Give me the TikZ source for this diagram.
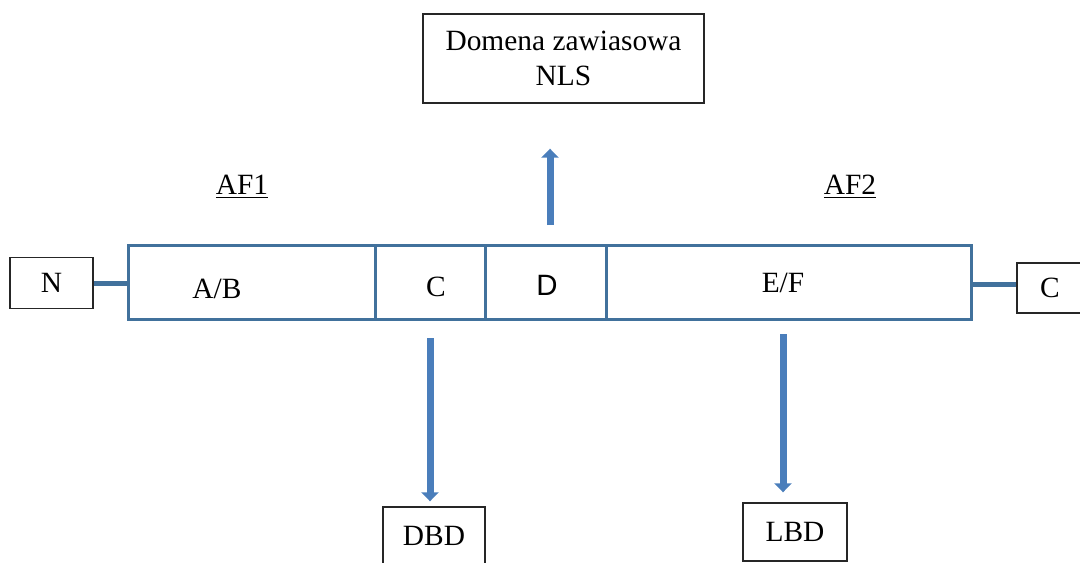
\documentclass[tikz,border=0pt]{standalone}
\usepackage{fontspec}
\setmainfont{Liberation Serif}
\setsansfont{Liberation Sans}
\usetikzlibrary{arrows.meta, positioning}

\definecolor{barblue}{RGB}{65,113,156}
\definecolor{arrowblue}{RGB}{74,126,187}

\begin{document}
\begin{tikzpicture}[
        x=0.5pt, y=-0.5pt,
        % Pola domen receptora
        segment/.style={
                rectangle,
                draw=barblue,
                line width=1.5pt,
                minimum height=37pt,
                inner sep=0pt,
                outer sep=0pt
            },
        % Ramki z opisem
        labelbox/.style={
                rectangle,
                draw=black!85,
                line width=0.7pt,
                align=center,
                inner sep=0pt,
                font=\fontsize{14.7}{17.5}\selectfont
            },
        % Napisy
        txt/.style={
                inner sep=0pt,
                font=\fontsize{14.7}{17.5}\selectfont
            },
        % Zakonczenia N i C
        link/.style={
                draw=barblue,
                line width=2.5pt
            },
        % Strzalki blokowe
        bigarrow/.style={
                draw=arrowblue,
                line width=3.5pt,
                -{Triangle[width=8.5pt,length=4.5pt]}
            }
    ]

    \useasboundingbox (0,0) rectangle (1080,562);

    % BELKA RECEPTORA
    \node[segment, minimum width=123.5pt] (ab) at (251.5,282) {};
    \node[segment, minimum width=55pt] (c) at (430,282) {};
    \node[segment, minimum width=60.5pt] (d) at (545.5,282) {};
    \node[segment, minimum width=182.5pt] (ef) at (788.5,282) {};

    % Nazwy domen
    \node[txt] (labab) at (217,289) {A/B};
    \node[txt] (labc) at (436,287) {C};
    \node[txt, font=\fontsize{14.7}{17.5}\sffamily] (labd) at (547,285) {D};
    \node[txt] (labef) at (783,283) {E/F};

    % Funkcje aktywujace
    \node[txt] (af1) at (242,187) {\underline{AF1}};
    \node[txt] (af2) at (850,187) {\underline{AF2}};

    % KONCE LANCUCHA
    \node[labelbox, minimum width=41.5pt, minimum height=25.5pt] (nterm) at (51.5,283) {N};
    \node[labelbox, minimum width=33pt, minimum height=25pt] (cterm) at (1050,288) {C};
    \draw[link] (nterm.east) -- (nterm.east -| ab.west);
    \draw[link] (cterm.west |- 0,284) -- (ef.east |- 0,284);

    % Domena zawiasowa
    \node[labelbox, minimum width=140.5pt, minimum height=44.5pt] (nls) at (563.5,58.5) {Domena zawiasowa\\NLS};
    \draw[bigarrow, shorten <=10pt, shorten >=22.5pt] ([xshift=2.25pt]d.north) -- ([xshift=2.25pt]d.north |- nls.south);

    % DBD
    \node[labelbox, minimum width=51pt, minimum height=29pt] (dbd) at (434,536) {DBD};
    \draw[bigarrow, shorten <=9.5pt, shorten >=2.5pt] (c.south) -- (c.south |- dbd.north);

    % LBD
    \node[labelbox, minimum width=52pt, minimum height=29pt] (lbd) at (795,532) {LBD};
    \draw[bigarrow, shorten <=7.5pt, shorten >=5pt] ([xshift=-2.75pt]ef.south) -- ([xshift=-2.75pt]ef.south |- lbd.north);

\end{tikzpicture}
\end{document}
